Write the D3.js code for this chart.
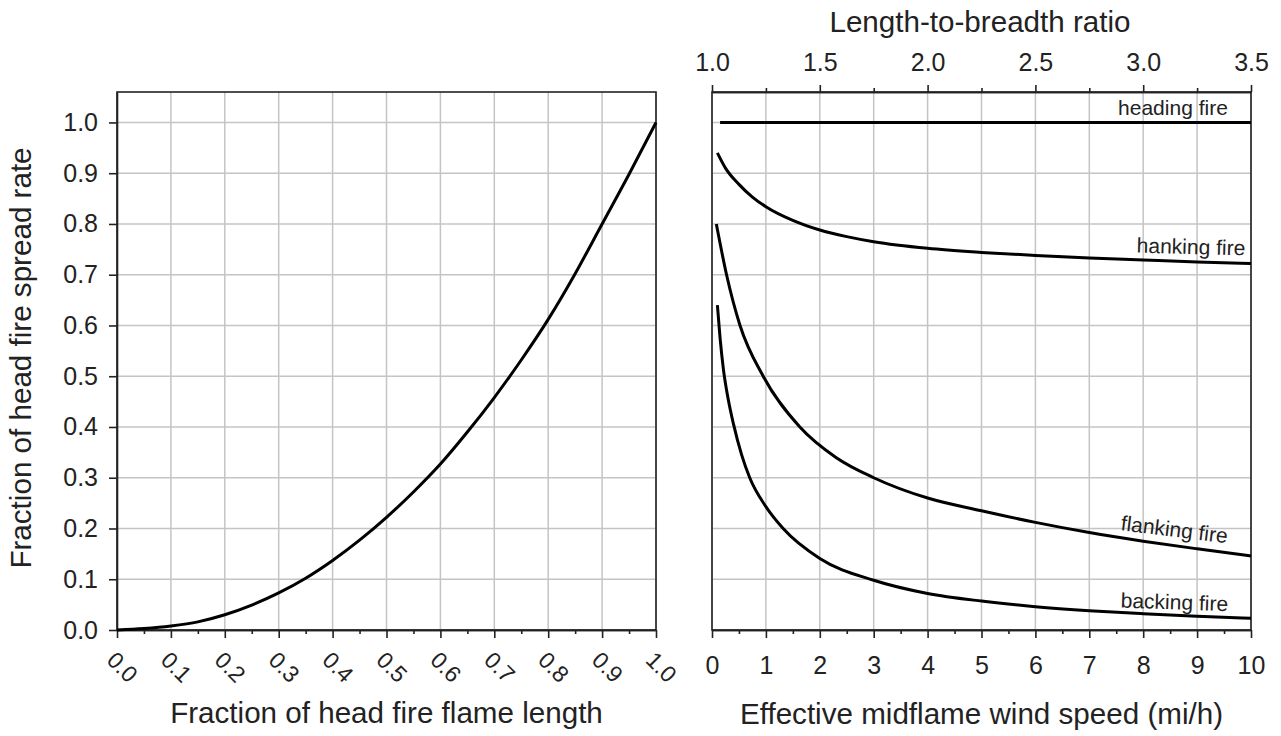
<!DOCTYPE html>
<html>
<head>
<meta charset="utf-8">
<script src="https://cdn.jsdelivr.net/npm/d3@7"></script>
<style>
  body { margin: 0; background: #fff; }
  svg { display: block; font-family: "Liberation Sans", Arial, sans-serif; }
  .grid line { stroke: #c4c4c4; stroke-width: 1.5; }
  .axis path, .axis line { stroke: #222; stroke-width: 1.6; }
  .axis text { fill: #222; font-size: 25px; font-family: "Liberation Sans", Arial, sans-serif; }
  .axis.rot text { font-size: 23px; }
  .curve { fill: none; stroke: #000; stroke-width: 3; stroke-linejoin: round; }
  .title { fill: #222; font-size: 29.6px; }
  .note { fill: #222; font-size: 21px; }
</style>
</head>
<body>
<svg id="chart"></svg>
<script>
// left panel: spread rate vs flame length fraction
const flameFraction = [0, 0.05, 0.1, 0.15, 0.2, 0.25, 0.3, 0.35, 0.4, 0.45, 0.5, 0.55, 0.6, 0.65, 0.7, 0.75, 0.8, 0.85, 0.9, 0.95, 1.0];
const spreadFraction = [0, 0.003, 0.008, 0.016, 0.030, 0.049, 0.073, 0.102, 0.137, 0.177, 0.222, 0.272, 0.327, 0.39, 0.458, 0.532, 0.612, 0.702, 0.80, 0.898, 1.0];

// right panel: wind speed (mi/h) for each curve
const hankingSpeed = [0.1, 0.25, 0.5, 0.75, 1, 1.5, 2, 2.5, 3, 4, 5, 6, 7, 8, 9, 10];
const hankingFire = [0.94, 0.91, 0.878, 0.853, 0.834, 0.807, 0.788, 0.775, 0.765, 0.752, 0.744, 0.738, 0.733, 0.729, 0.725, 0.722];
const flankingSpeed = [0.08, 0.27, 0.52, 0.95, 1.63, 2.3, 3, 4, 5, 6, 7, 8, 9, 10];
const flankingFire = [0.80, 0.70, 0.60, 0.50, 0.40, 0.34, 0.30, 0.26, 0.235, 0.212, 0.192, 0.175, 0.16, 0.146];
const backingSpeed = [0.1, 0.15, 0.21, 0.3, 0.4, 0.55, 0.7, 1, 1.32, 2, 3, 4, 5, 6, 7, 8, 9, 10];
const backingFire = [0.64, 0.575, 0.515, 0.455, 0.405, 0.345, 0.30, 0.243, 0.20, 0.141, 0.098, 0.072, 0.057, 0.046, 0.038, 0.032, 0.027, 0.023];
const headingSpeed = [0.15, 10];
const headingFire = [1.0, 1.0];

// curve labels: text, anchor (end) in data units, rotation
const curveLabels = [
  { text: 'heading fire', x: 9.57, y: 1.015, angle: 0 },
  { text: 'hanking fire', x: 9.89, y: 0.738, angle: 1.5 },
  { text: 'flanking fire', x: 9.55, y: 0.171, angle: 7 },
  { text: 'backing fire', x: 9.57, y: 0.037, angle: 2 }
];

const xTicksLeft = d3.range(0, 1.0001, 0.1);
const yTicks = d3.range(0, 1.0001, 0.1);
const xTicksRight = d3.range(0, 11, 1);
const ratioTicks = [1.0, 1.5, 2.0, 2.5, 3.0, 3.5];

const svg = d3.select('#chart').attr('width', 1281).attr('height', 736);

const plotTop = 92, plotBottom = 630;
const y = d3.scaleLinear().domain([0, 1.06]).range([plotBottom, plotTop]);
const xL = d3.scaleLinear().domain([0, 1]).range([117, 656]);
const xR = d3.scaleLinear().domain([0, 10]).range([712, 1251]);
const xRatio = d3.scaleLinear().domain([1, 3.5]).range([712, 1251]);

function drawGrid(x, xs) {
  const g = svg.append('g').attr('class', 'grid');
  g.selectAll('.v').data(xs).enter().append('line')
    .attr('x1', d => x(d)).attr('x2', d => x(d))
    .attr('y1', plotTop).attr('y2', plotBottom);
  g.selectAll('.h').data(yTicks).enter().append('line')
    .attr('x1', x.range()[0]).attr('x2', x.range()[1])
    .attr('y1', d => y(d)).attr('y2', d => y(d));
}

function drawFrame(x) {
  svg.append('rect')
    .attr('x', x.range()[0]).attr('y', plotTop)
    .attr('width', x.range()[1] - x.range()[0]).attr('height', plotBottom - plotTop)
    .attr('fill', 'none').attr('stroke', '#222').attr('stroke-width', 1.6);
}

drawGrid(xL, xTicksLeft);
drawGrid(xR, xTicksRight);
drawFrame(xL);
drawFrame(xR);

// left y axis
svg.append('g')
  .attr('class', 'axis')
  .attr('transform', 'translate(' + xL.range()[0] + ', 0)')
  .call(d3.axisLeft(y).tickValues(yTicks).tickFormat(d3.format('.1f')).tickSize(8).tickPadding(11).tickSizeOuter(0));

// left x axis, minor ticks then major with rotated labels
svg.append('g')
  .attr('class', 'axis')
  .attr('transform', 'translate(0, ' + plotBottom + ')')
  .call(d3.axisBottom(xL).tickValues(d3.range(0.05, 1, 0.1)).tickFormat('').tickSize(4).tickSizeOuter(0));

const axL = svg.append('g')
  .attr('class', 'axis rot')
  .attr('transform', 'translate(0, ' + plotBottom + ')')
  .call(d3.axisBottom(xL).tickValues(xTicksLeft).tickFormat(d3.format('.1f')).tickSize(8).tickSizeOuter(0));
axL.selectAll('text')
  .attr('y', 0).attr('dy', '0.35em')
  .attr('text-anchor', 'middle')
  .attr('transform', 'translate(5, 37) rotate(45)');

// right x axis
svg.append('g')
  .attr('class', 'axis')
  .attr('transform', 'translate(0, ' + plotBottom + ')')
  .call(d3.axisBottom(xR).tickValues(d3.range(0.5, 10, 1)).tickFormat('').tickSize(4).tickSizeOuter(0));
svg.append('g')
  .attr('class', 'axis')
  .attr('transform', 'translate(0, ' + plotBottom + ')')
  .call(d3.axisBottom(xR).tickValues(xTicksRight).tickFormat(d3.format('d')).tickSize(8).tickPadding(18).tickSizeOuter(0));

// top ratio axis
svg.append('g')
  .attr('class', 'axis')
  .attr('transform', 'translate(0, ' + plotTop + ')')
  .call(d3.axisTop(xRatio).tickValues(d3.range(1.25, 3.5, 0.5)).tickFormat('').tickSize(4).tickSizeOuter(0));
svg.append('g')
  .attr('class', 'axis')
  .attr('transform', 'translate(0, ' + plotTop + ')')
  .call(d3.axisTop(xRatio).tickValues(ratioTicks).tickFormat(d3.format('.1f')).tickSize(7).tickPadding(14).tickSizeOuter(0));

// curves
const lineL = d3.line().x(d => xL(d[0])).y(d => y(d[1])).curve(d3.curveMonotoneX);
const lineR = d3.line().x(d => xR(d[0])).y(d => y(d[1])).curve(d3.curveMonotoneX);

svg.append('path').attr('class', 'curve').attr('d', lineL(d3.zip(flameFraction, spreadFraction)));

[[headingSpeed, headingFire], [hankingSpeed, hankingFire], [flankingSpeed, flankingFire], [backingSpeed, backingFire]]
  .forEach(function(s) {
    svg.append('path').attr('class', 'curve').attr('d', lineR(d3.zip(s[0], s[1])));
  });

svg.selectAll('.note').data(curveLabels).enter().append('text')
  .attr('class', 'note')
  .attr('text-anchor', 'end')
  .attr('transform', d => 'translate(' + xR(d.x) + ', ' + y(d.y) + ') rotate(' + d.angle + ')')
  .text(d => d.text);

// titles
svg.append('text').attr('class', 'title').attr('text-anchor', 'middle')
  .attr('x', (xL.range()[0] + xL.range()[1]) / 2).attr('y', 723)
  .text('Fraction of head fire flame length');
svg.append('text').attr('class', 'title').attr('text-anchor', 'middle')
  .attr('x', (xR.range()[0] + xR.range()[1]) / 2).attr('y', 724)
  .text('Effective midflame wind speed (mi/h)');
svg.append('text').attr('class', 'title').attr('text-anchor', 'middle')
  .attr('x', 980).attr('y', 32)
  .text('Length-to-breadth ratio');
svg.append('text').attr('class', 'title').attr('text-anchor', 'middle')
  .attr('transform', 'translate(31, 358) rotate(-90)')
  .text('Fraction of head fire spread rate');
</script>
</body>
</html>
